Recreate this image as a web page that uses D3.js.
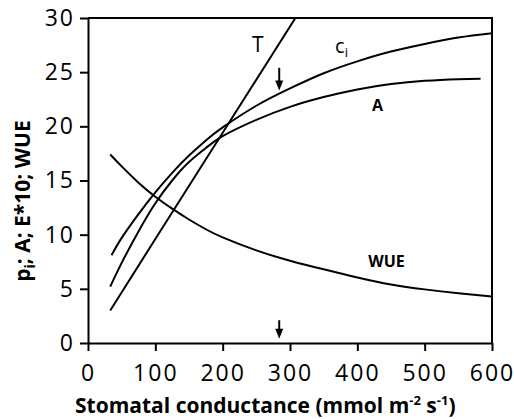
<!DOCTYPE html>
<html>
<head>
<meta charset="utf-8">
<script src="https://cdn.jsdelivr.net/npm/d3@7"></script>
<style>
  body { margin: 0; background: #fff; }
  #chart text { font-family: "Open Sans", "Noto Sans", sans-serif; fill: #000; }
</style>
</head>
<body>
<div id="chart"></div>
<script>
// Data (x = stomatal conductance)
const ciX = [35, 50, 75, 100, 125, 150, 175, 200, 250, 300, 350, 400, 450, 500, 550, 600];
const ciY = [8.1, 9.7, 11.9, 13.9, 15.7, 17.3, 18.7, 19.9, 21.9, 23.5, 24.9, 26.0, 26.9, 27.6, 28.2, 28.6];

const aX = [33, 50, 75, 100, 125, 150, 175, 200, 250, 300, 350, 400, 450, 500, 550, 583];
const aY = [5.2, 7.4, 10.3, 12.9, 15.0, 16.7, 18.0, 19.1, 20.6, 21.8, 22.7, 23.4, 23.9, 24.2, 24.35, 24.4];

const tX = [33, 100, 200, 308];
const tY = [3.0, 9.6, 19.4, 30];

const wueX = [33, 50, 75, 100, 125, 150, 175, 200, 250, 300, 350, 400, 450, 500, 550, 600];
const wueY = [17.4, 16.3, 14.8, 13.5, 12.4, 11.4, 10.5, 9.75, 8.55, 7.6, 6.8, 6.05, 5.4, 4.95, 4.6, 4.3];

const xTicks = [0, 100, 200, 300, 400, 500, 600];
const yTicks = [0, 5, 10, 15, 20, 25, 30];
const arrowX = 284;   // optimum conductance marked by arrows

const margin = {top: 18, right: 22, bottom: 76, left: 88};
const width = 514 - margin.left - margin.right;
const height = 419 - margin.top - margin.bottom;

const svg = d3.select("#chart")
    .append("svg")
    .attr("width", 514)
    .attr("height", 419)
    .append("g")
    .attr("transform", `translate(${margin.left}, ${margin.top})`);

const xScale = d3.scaleLinear().domain([0, 600]).range([0, width]);
const yScale = d3.scaleLinear().domain([0, 30]).range([height, 0]);

// clip so T stops at the top border
svg.append("clipPath").attr("id", "plot-clip")
    .append("rect").attr("width", width).attr("height", height);

// Box: top and right borders
svg.append("path")
    .attr("d", `M0,0H${width}V${height}`)
    .attr("fill", "none")
    .attr("stroke", "#000")
    .attr("stroke-width", 2);

// Axes
const xAxis = svg.append("g")
    .attr("transform", `translate(0, ${height})`)
    .call(d3.axisBottom(xScale).tickValues(xTicks).tickSize(8).tickSizeOuter(0).tickPadding(14));
const yAxis = svg.append("g")
    .call(d3.axisLeft(yScale).tickValues(yTicks).tickSize(8).tickSizeOuter(0).tickPadding(5));

[xAxis, yAxis].forEach(ax => {
    ax.selectAll("path, line").attr("stroke", "#000").attr("stroke-width", 2);
    ax.selectAll("text")
        .style("font-size", "23px")
        .style("letter-spacing", "2px")
        .attr("fill", "#000");
});

// Curves
const smooth = d3.line()
    .x(d => xScale(d[0]))
    .y(d => yScale(d[1]))
    .curve(d3.curveNatural);

const straight = d3.line()
    .x(d => xScale(d[0]))
    .y(d => yScale(d[1]));

const plot = svg.append("g").attr("clip-path", "url(#plot-clip)");

plot.selectAll(".curve")
    .data([d3.zip(ciX, ciY), d3.zip(aX, aY), d3.zip(wueX, wueY)])
    .enter()
    .append("path")
    .attr("class", "curve")
    .attr("d", smooth)
    .attr("fill", "none")
    .attr("stroke", "#000")
    .attr("stroke-width", 2);

plot.append("path")
    .datum(d3.zip(tX, tY))
    .attr("d", straight)
    .attr("fill", "none")
    .attr("stroke", "#000")
    .attr("stroke-width", 2);

// Curve labels
svg.append("text")
    .attr("x", xScale(243.6))
    .attr("y", yScale(26.9))
    .style("font-size", "21px")
    .text("T");

const ciLabel = svg.append("text")
    .attr("x", xScale(367))
    .attr("y", yScale(26.8))
    .style("font-size", "20px")
    .text("c");
ciLabel.append("tspan")
    .attr("dy", 4)
    .style("font-size", "13px")
    .text("i");

svg.append("text")
    .attr("x", xScale(421.8))
    .attr("y", yScale(21.4))
    .style("font-size", "16px")
    .style("font-weight", "bold")
    .text("A");

svg.append("text")
    .attr("x", xScale(416.3))
    .attr("y", yScale(7.0))
    .style("font-size", "16px")
    .style("font-weight", "bold")
    .text("WUE");

// Arrows
function arrow(x, y0, y1) {
    svg.append("line")
        .attr("x1", xScale(x)).attr("x2", xScale(x))
        .attr("y1", yScale(y0)).attr("y2", yScale(y1) - 8)
        .attr("stroke", "#000")
        .attr("stroke-width", 2);
    svg.append("path")
        .attr("d", `M${xScale(x) - 4},${yScale(y1) - 10}L${xScale(x) + 4},${yScale(y1) - 10}L${xScale(x)},${yScale(y1)}Z`)
        .attr("fill", "#000");
}
arrow(arrowX, 25.4, 23.3);
arrow(arrowX, 2.1, 0.4);

// Axis titles
const xTitle = svg.append("text")
    .attr("x", -13)
    .attr("y", height + 70)
    .style("font-size", "21px")
    .style("font-weight", "bold")
    .text("Stomatal conductance (mmol m");
xTitle.append("tspan").attr("dy", -8).style("font-size", "13px").text("-2");
xTitle.append("tspan").attr("dy", 8).text(" s");
xTitle.append("tspan").attr("dy", -8).style("font-size", "13px").text("-1");
xTitle.append("tspan").attr("dy", 8).text(")");

const yTitle = svg.append("text")
    .attr("transform", `translate(${-58}, ${yScale(13.1)}) rotate(-90)`)
    .style("text-anchor", "middle")
    .style("font-size", "21px")
    .style("font-weight", "bold")
    .text("p");
yTitle.append("tspan").attr("dy", 5).style("font-size", "14px").text("i");
yTitle.append("tspan").attr("dy", -5).text("; A; E*10; WUE");
</script>
</body>
</html>
